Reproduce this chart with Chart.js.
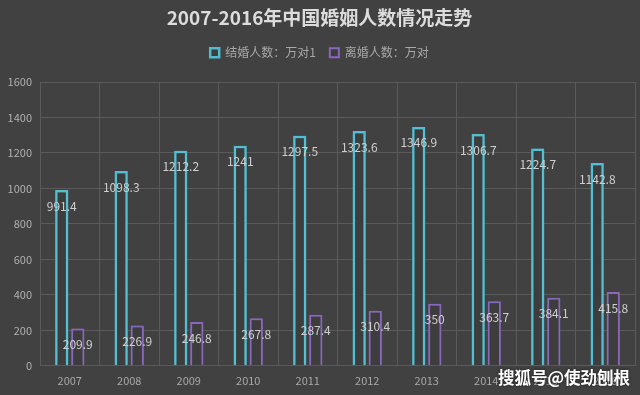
<!DOCTYPE html>
<html>
<head>
<meta charset="utf-8">
<script src="https://cdn.jsdelivr.net/npm/chart.js@4/dist/chart.umd.min.js"></script>
<style>
  html, body { margin: 0; padding: 0; background: #414141; }
  #wrap { position: relative; width: 640px; height: 395px; }
  #wm { position: absolute; left: 498px; top: 365px; color: #fff; font: bold 16.5px "Noto Sans CJK SC", sans-serif; text-shadow: 0 0 3px rgba(0,0,0,0.6); white-space: nowrap; }
</style>
</head>
<body>
<div id="wrap">
  <canvas id="c" width="640" height="395"></canvas>
  <div id="wm">搜狐号@使劲刨根</div>
</div>
<script>
const years = ["2007","2008","2009","2010","2011","2012","2013","2014","2015","2016"];
const marriages = [991.4, 1098.3, 1212.2, 1241, 1297.5, 1323.6, 1346.9, 1306.7, 1224.7, 1142.8];
const divorces = [209.9, 226.9, 246.8, 267.8, 287.4, 310.4, 350, 363.7, 384.1, 415.8];
const seriesNames = ["结婚人数：万对1", "离婚人数：万对"];
const titleText = "2007-2016年中国婚姻人数情况走势";

const FONT = '"Noto Sans CJK SC", "Noto Sans", sans-serif';

const bgPlugin = {
  id: 'bg',
  beforeDraw(chart) {
    const ctx = chart.ctx;
    ctx.save();
    ctx.fillStyle = '#414141';
    ctx.fillRect(0, 0, chart.width, chart.height);
    ctx.restore();
  }
};

const glowPlugin = {
  id: 'glow',
  beforeDatasetDraw(chart, args) {
    const ctx = chart.ctx;
    ctx.save();
    ctx.shadowColor = args.index === 0 ? 'rgba(90,210,235,0.55)' : 'rgba(150,110,210,0.5)';
    ctx.shadowBlur = 5;
  },
  afterDatasetDraw(chart) {
    chart.ctx.restore();
  }
};

const labelPlugin = {
  id: 'barLabels',
  afterDatasetsDraw(chart) {
    const ctx = chart.ctx;
    ctx.save();
    ctx.font = '12px ' + FONT;
    ctx.fillStyle = '#cfcfcf';
    ctx.textAlign = 'center';
    ctx.textBaseline = 'middle';
    chart.data.datasets.forEach((ds, i) => {
      const meta = chart.getDatasetMeta(i);
      meta.data.forEach((bar, j) => {
        ctx.fillText(String(ds.data[j]), bar.x, bar.y + 16);
      });
    });
    ctx.restore();
  }
};

new Chart(document.getElementById('c'), {
  type: 'bar',
  data: {
    labels: years,
    datasets: [
      {
        label: seriesNames[0],
        data: marriages,
        backgroundColor: '#3d3d3d',
        borderColor: '#52bccf',
        borderWidth: 2.5,
        categoryPercentage: 0.54,
        barPercentage: 0.82
      },
      {
        label: seriesNames[1],
        data: divorces,
        backgroundColor: '#3d3d3d',
        borderColor: '#8768b8',
        borderWidth: 2,
        categoryPercentage: 0.54,
        barPercentage: 0.82
      }
    ]
  },
  options: {
    responsive: false,
    animation: false,
    layout: { padding: { left: 4, right: 5, top: 4, bottom: 0 } },
    plugins: {
      title: {
        display: true,
        text: titleText,
        color: '#dcdcdc',
        font: { family: FONT, size: 19, weight: 'bold' },
        padding: { top: 2, bottom: 4 }
      },
      subtitle: {
        display: true,
        text: '',
        weight: 900,
        font: { size: 1 },
        padding: { top: 0, bottom: 12 }
      },
      legend: {
        display: true,
        labels: {
          color: '#a8a8a8',
          font: { family: FONT, size: 12 },
          boxWidth: 9,
          boxHeight: 9,
          padding: 14
        }
      },
      tooltip: { enabled: false }
    },
    scales: {
      x: {
        grid: { color: '#5a5a5a', lineWidth: 1, offset: true, drawTicks: false },
        border: { color: '#5a5a5a' },
        ticks: { color: '#a8a8a8', font: { family: FONT, size: 11 }, padding: 8 }
      },
      y: {
        min: 0,
        max: 1600,
        afterFit(scale) { scale.width = 36; },
        grid: { color: '#5a5a5a', lineWidth: 1, drawTicks: false },
        border: { display: false },
        ticks: { stepSize: 200, color: '#b0b0b0', font: { family: FONT, size: 11 }, padding: 8, callback: v => String(v) }
      }
    }
  },
  plugins: [bgPlugin, glowPlugin, labelPlugin]
});
</script>
</body>
</html>
